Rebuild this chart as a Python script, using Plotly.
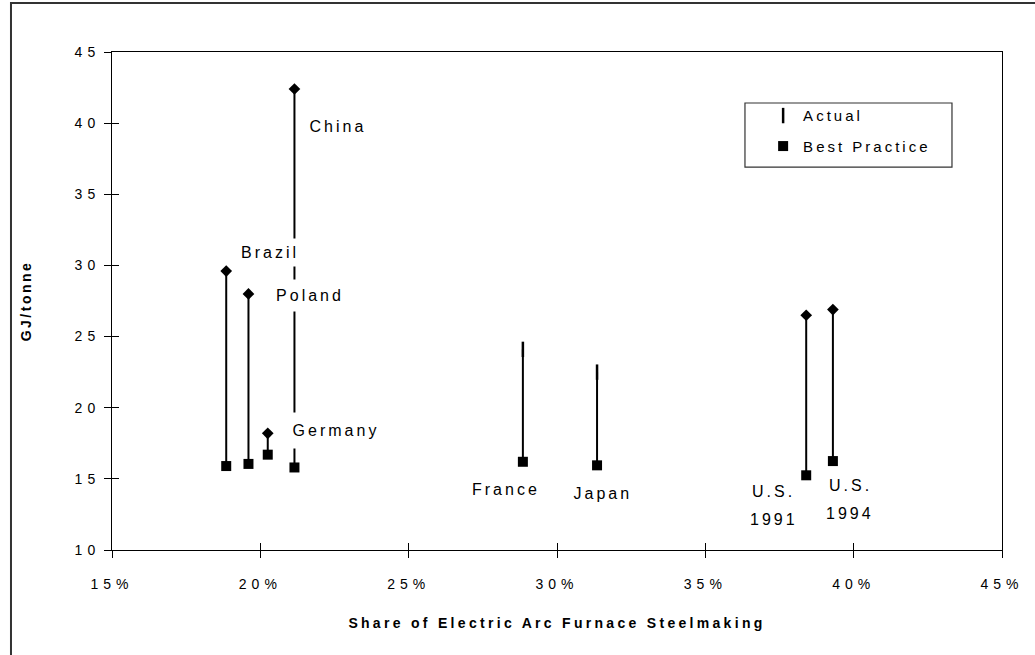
import plotly.graph_objects as go

# ---- data -------------------------------------------------------------
countries = ["Brazil", "Poland", "Germany", "China", "France", "Japan", "U.S. 1991", "U.S. 1994"]
eaf_share = [18.85, 19.6, 20.25, 21.15, 28.85, 31.35, 38.4, 39.3]        # % of steel from EAF
actual = [29.6, 28.0, 18.2, 42.4, 24.1, 22.5, 26.5, 26.9]                # GJ/tonne
best_practice = [15.9, 16.05, 16.7, 15.8, 16.2, 15.95, 15.25, 16.25]     # GJ/tonne
actual_symbol = ["diamond", "diamond", "diamond", "diamond", "bar", "bar", "diamond", "diamond"]

x_ticks = [15, 20, 25, 30, 35, 40, 45]
x_tick_labels = ["15%", "20%", "25%", "30%", "35%", "40%", "45%"]
y_ticks = [10, 15, 20, 25, 30, 35, 40, 45]

# ---- label placement (data coords of label centre, optional white mask w/h in px) ----
label_lines = {
    "Brazil": ["Brazil"], "Poland": ["Poland"], "Germany": ["Germany"], "China": ["China"],
    "France": ["France"], "Japan": ["Japan"], "U.S. 1991": ["U.S.", "1991"], "U.S. 1994": ["U.S.", "1994"],
}
label_place = {
    "China": (22.62, 39.73, None),
    "Brazil": (20.33, 30.94, (58, 27)),
    "Poland": (21.67, 27.92, (72, 31)),
    "Germany": (22.55, 18.37, (96, 35)),
    "France": (28.28, 14.22, None),
    "Japan": (31.55, 13.94, None),
    "U.S. 1991": (37.31, 14.08, None),
    "U.S. 1994": (39.88, 14.5, None),
}

FONT = "Liberation Sans, Arial, sans-serif"

# vertical connector from best practice to actual
seg_x, seg_y = [], []
for xv, a, b in zip(eaf_share, actual, best_practice):
    seg_x += [xv, xv, None]
    seg_y += [b, a, None]

dia_x = [xv for xv, s in zip(eaf_share, actual_symbol) if s == "diamond"]
dia_y = [a for a, s in zip(actual, actual_symbol) if s == "diamond"]
bar_x = [xv for xv, s in zip(eaf_share, actual_symbol) if s == "bar"]
bar_y = [a for a, s in zip(actual, actual_symbol) if s == "bar"]

fig = go.Figure()
fig.add_trace(go.Scatter(x=seg_x, y=seg_y, mode="lines", xaxis="x2", yaxis="y2",
                         line=dict(color="black", width=2), showlegend=False, hoverinfo="skip"))
fig.add_trace(go.Scatter(x=dia_x, y=dia_y, mode="markers", showlegend=False,
                         marker=dict(symbol="diamond", size=9, color="black")))
fig.add_trace(go.Scatter(x=bar_x, y=bar_y, mode="markers", name="Actual", legendgroup="a",
                         marker=dict(symbol="line-ns", size=11, color="black",
                                     line=dict(color="black", width=2.5))))
fig.add_trace(go.Scatter(x=eaf_share, y=best_practice, mode="markers", name="Best Practice",
                         legendgroup="b", marker=dict(symbol="square", size=10, color="black")))

annotations = []
for c in countries:
    lx, ly, mask = label_place[c]
    for i, line in enumerate(label_lines[c]):
        a = dict(x=lx, y=ly, xref="x", yref="y", text=line, showarrow=False,
                 xanchor="center", yanchor="middle", yshift=-28 * i,
                 font=dict(family=FONT, size=16, color="black"))
        if mask:
            a.update(bgcolor="white", width=mask[0], height=mask[1], align="center", borderpad=0)
        annotations.append(a)

axis_common = dict(showgrid=False, zeroline=False, ticks="outside", ticklen=7,
                   tickcolor="black", tickwidth=1, showline=True, linecolor="black",
                   linewidth=1, mirror=True,
                   tickfont=dict(family=FONT, size=14, color="black"))

fig.update_layout(
    width=1035, height=655,
    margin=dict(l=112, r=33, t=52, b=105),
    paper_bgcolor="white", plot_bgcolor="white",
    font=dict(family=FONT, color="black"),
    xaxis=dict(range=[15, 45], tickvals=x_ticks, ticktext=x_tick_labels, ticklabelstandoff=14,
               title=dict(text="Share of Electric Arc Furnace Steelmaking", standoff=27,
                          font=dict(family=FONT, size=14, weight="bold", color="black")),
               **axis_common),
    yaxis=dict(range=[10, 45], tickvals=y_ticks, ticklabelstandoff=1,
               title=dict(text="GJ/tonne", standoff=49,
                          font=dict(family=FONT, size=14, weight="bold", color="black")),
               **axis_common),
    xaxis2=dict(overlaying="x", matches="x", anchor="y2", side="bottom", ticks="inside",
                ticklen=7, tickcolor="black", tickvals=x_ticks, showticklabels=False,
                showgrid=False, zeroline=False, showline=False),
    yaxis2=dict(overlaying="y", matches="y", anchor="x2", side="left", ticks="inside",
                ticklen=7, tickcolor="black", tickvals=y_ticks, showticklabels=False,
                showgrid=False, zeroline=False, showline=False),
    legend=dict(x=0.7316, y=0.905, xanchor="left", yanchor="top",
                bgcolor="rgba(0,0,0,0)", borderwidth=0, tracegroupgap=8,
                font=dict(family=FONT, size=15, color="black")),
    annotations=annotations,
    shapes=[
        # legend frame
        dict(type="rect", xref="paper", yref="paper", x0=0.7112, x1=0.9438, y0=0.769, y1=0.8976,
             line=dict(color="#333333", width=1.2), fillcolor="white", layer="below"),
        # outer chart frame
        dict(type="rect", xref="paper", yref="paper", x0=-0.1135, x1=1.3, y0=-0.5, y1=1.0984,
             line=dict(color="#333333", width=2), fillcolor="rgba(0,0,0,0)", layer="below"),
    ],
)

spacing_css = """
var st = document.createElement('style');
st.textContent = '.xtick text, .ytick text {letter-spacing:5px;}'
  + ' .annotation-text {letter-spacing:3px;}'
  + ' .legendtext {letter-spacing:3px;}'
  + ' .legend .scrollbox {clip-path:none !important;}'
  + ' .xtitle {letter-spacing:3.3px;} .ytitle {letter-spacing:2.5px;}';
document.head.appendChild(st);
"""

fig.write_html("out.html", post_script=spacing_css)
